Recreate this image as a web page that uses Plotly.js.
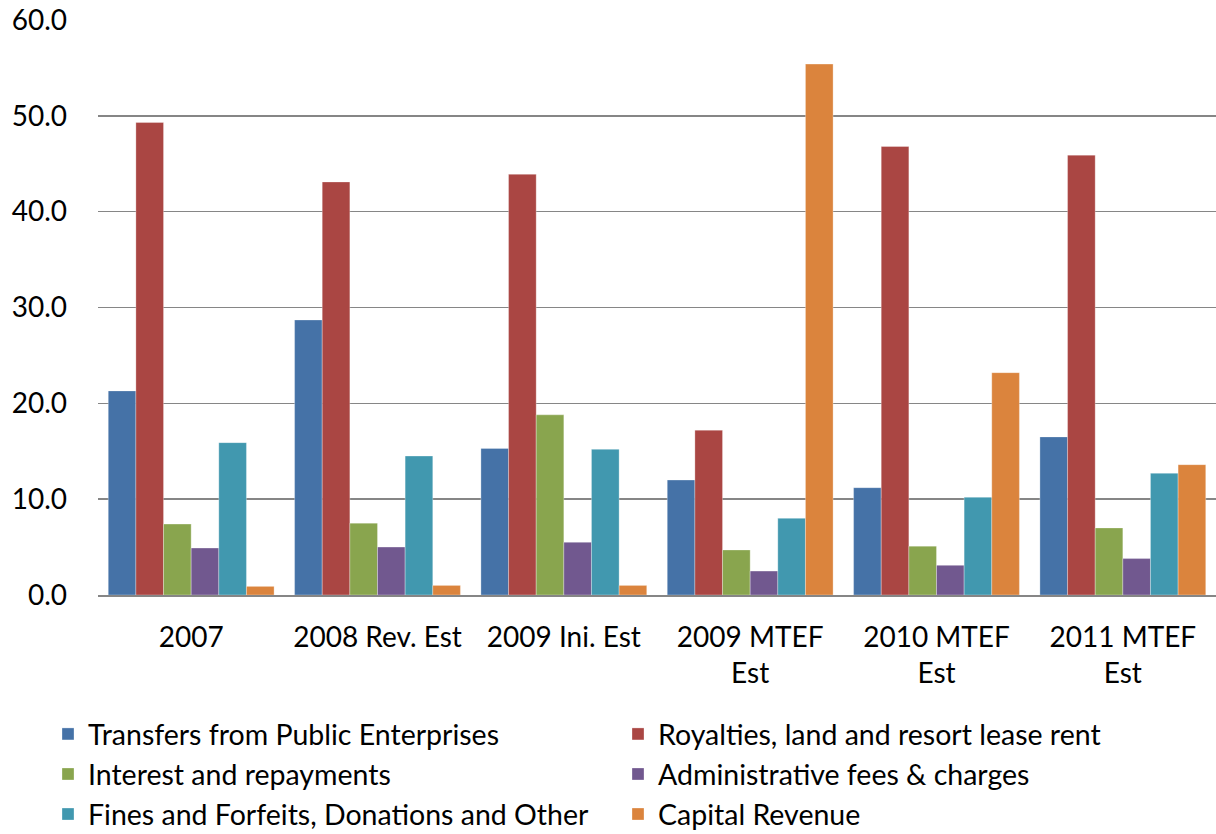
<!DOCTYPE html>
<html><head><meta charset="utf-8">
<script src="https://cdn.plot.ly/plotly-3.0.1.min.js"></script>
<style>html,body{margin:0;padding:0;background:#fff;}#chart{width:1216px;height:834px;}</style>
</head><body><div id="chart"></div>
<script>
const categories = ["2007", "2008 Rev. Est", "2009 Ini. Est", "2009 MTEF<br>Est", "2010 MTEF<br>Est", "2011 MTEF<br>Est"];
const seriesNames = ["Transfers from Public Enterprises", "Royalties, land and resort lease rent", "Interest and repayments", "Administrative fees & charges", "Fines and Forfeits, Donations and Other", "Capital Revenue"];
const transfers = [21.3, 28.7, 15.3, 12.0, 11.2, 16.5];
const royalties = [49.3, 43.1, 43.9, 17.2, 46.8, 45.9];
const interest = [7.4, 7.5, 18.8, 4.7, 5.1, 7.0];
const adminFees = [4.9, 5.0, 5.5, 2.5, 3.1, 3.8];
const fines = [15.9, 14.5, 15.2, 8.0, 10.2, 12.7];
const capital = [0.9, 1.0, 1.0, 55.4, 23.2, 13.6];
const colors = ["#4572A7", "#AA4643", "#89A54E", "#71588F", "#4198AF", "#DB843D"];

const values = [transfers, royalties, interest, adminFees, fines, capital];
const traces = values.map((v, i) => ({
  type: "bar", x: categories, y: v, name: seriesNames[i],
  legend: i % 2 === 0 ? "legend" : "legend2",
  marker: {color: colors[i], line: {color: "rgba(255,255,255,0.6)", width: 0.5}},
  hoverinfo: "y"
}));
const font = "Lato, 'Open Sans', sans-serif";
const legBase = {orientation: "v", xanchor: "left", yref: "container", xref: "container", y: 0.15, yanchor: "top",
  font: {size: 28.5}, traceorder: "normal", itemwidth: 30, tracegroupgap: 0, bgcolor: "rgba(0,0,0,0)"};
Plotly.newPlot("chart", traces, {
  width: 1216, height: 834,
  margin: {l: 98, r: 0, t: 20, b: 239, autoexpand: false},
  paper_bgcolor: "#fff", plot_bgcolor: "#fff",
  font: {family: font, size: 28, color: "#000"},
  barmode: "group", bargap: 0.11, bargroupgap: 0,
  xaxis: {type: "category", showgrid: false, showline: true, linecolor: "#868686", linewidth: 2,
          ticks: "", tickfont: {size: 28}, ticklabelstandoff: 16, automargin: false},
  yaxis: {range: [0, 60], dtick: 10, tickformat: ".1f", showgrid: true, gridcolor: "#868686", gridwidth: 1.5,
          zeroline: false, showline: false, ticks: "", tickfont: {size: 28}, ticklabelstandoff: 30, automargin: false},
  showlegend: true,
  legend: Object.assign({}, legBase, {x: 48 / 1216}),
  legend2: Object.assign({}, legBase, {x: 618 / 1216})
}, {displayModeBar: false, staticPlot: true});
</script></body></html>
